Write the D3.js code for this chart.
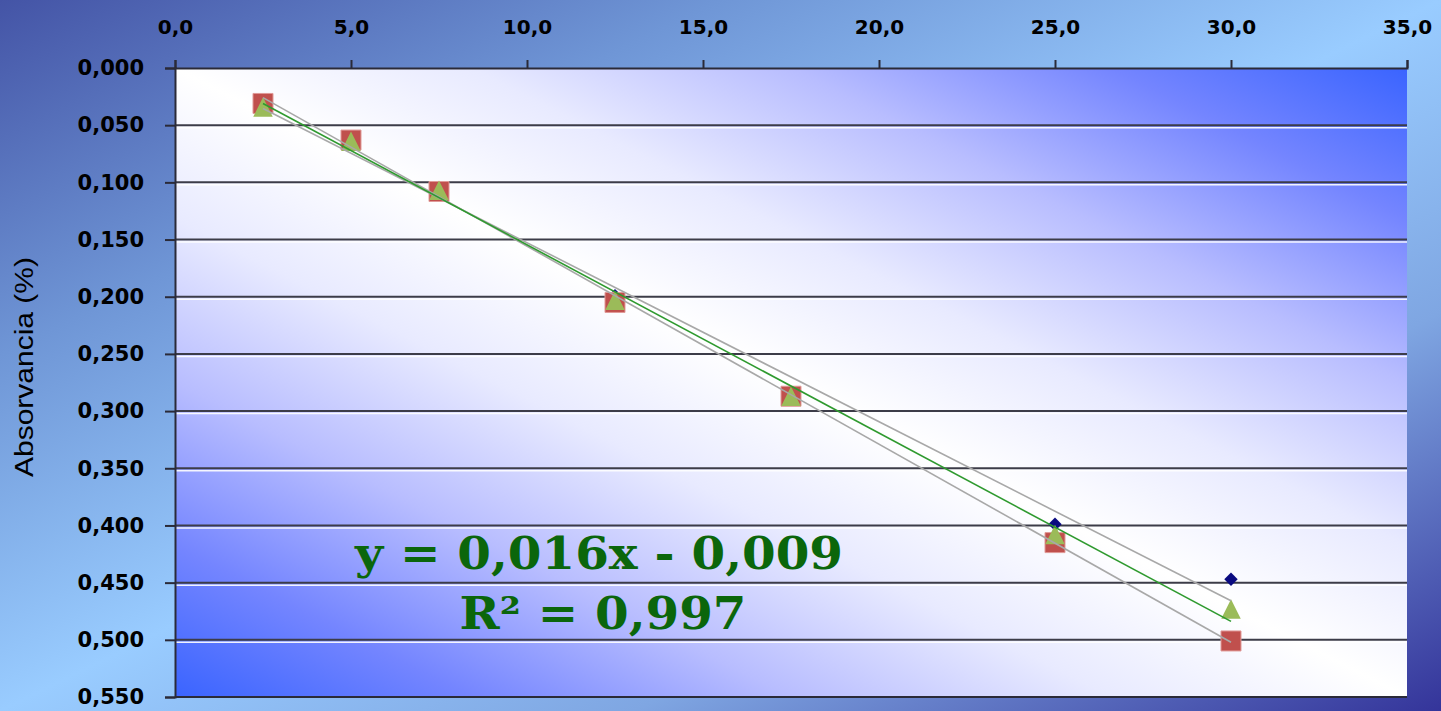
<!DOCTYPE html>
<html>
<head>
<meta charset="utf-8">
<script src="https://cdn.jsdelivr.net/npm/d3@7"></script>
<style>
  html, body { margin: 0; padding: 0; overflow: hidden; }
  svg { display: block; }
</style>
</head>
<body>
<script>
// ---- data ----
const concentracion = [2.5, 5, 7.5, 12.5, 17.5, 25, 30];
const serieAzul  = [0.036, 0.065, 0.106, 0.199, 0.287, 0.399, 0.447];
const serieRoja  = [0.031, 0.063, 0.108, 0.205, 0.287, 0.415, 0.501];
const serieVerde = [0.034, 0.064, 0.107, 0.203, 0.287, 0.408, 0.473];
const xTicks = [0, 5, 10, 15, 20, 25, 30, 35];
const yTicks = [0, 0.05, 0.10, 0.15, 0.20, 0.25, 0.30, 0.35, 0.40, 0.45, 0.50, 0.55];
const yTitle = "Absorvancia (%)";
const ecuacion = "y = 0,016x - 0,009";
const r2Text = "R² = 0,997";

const W = 1441, H = 711;
const m = { left: 175, right: 1441 - 1407, top: 68, bottom: 711 - 697 };

const svg = d3.select("body").append("svg").attr("width", W).attr("height", H);
const defs = svg.append("defs");

// outer background gradient
const bg = defs.append("linearGradient").attr("id", "bg")
  .attr("x1", 0).attr("y1", 0).attr("x2", 1).attr("y2", 1);
[[0, "#4454a6"], [0.25, "#6f96d6"], [0.5, "#99ccff"], [0.72, "#7fa6e2"], [1, "#34349a"]]
  .forEach(([o, c]) => bg.append("stop").attr("offset", o).attr("stop-color", c));

// plot area gradient
const pg = defs.append("linearGradient").attr("id", "pg")
  .attr("x1", 0).attr("y1", 1).attr("x2", 1).attr("y2", 0);
[[0, "#3a64ff"], [0.12, "#7485ff"], [0.25, "#b8bdff"], [0.38, "#e8eaff"], [0.5, "#ffffff"],
 [0.62, "#e8eaff"], [0.75, "#b8bdff"], [0.88, "#7485ff"], [1, "#3a64ff"]]
  .forEach(([o, c]) => pg.append("stop").attr("offset", o).attr("stop-color", c));

svg.append("rect").attr("width", W).attr("height", H).attr("fill", "url(#bg)");

const x = d3.scaleLinear().domain([0, 35]).range([m.left, W - m.right]);
const y = d3.scaleLinear().domain([0, 0.55]).range([m.top, H - m.bottom]);

const loc = d3.formatLocale({ decimal: ",", thousands: ".", grouping: [3], currency: ["", ""] });

// plot area
svg.append("rect")
  .attr("x", x(0)).attr("y", y(0))
  .attr("width", x(35) - x(0)).attr("height", y(0.55) - y(0))
  .attr("fill", "url(#pg)");

// gridlines
const grid = svg.append("g");
yTicks.filter(d => d > 0 && d < 0.55).forEach(d => {
  grid.append("line").attr("x1", x(0)).attr("x2", x(35))
    .attr("y1", y(d) + 2.5).attr("y2", y(d) + 2.5)
    .attr("stroke", "#ffffff").attr("stroke-width", 1.5).attr("opacity", 0.9);
  grid.append("line").attr("x1", x(0)).attr("x2", x(35))
    .attr("y1", y(d)).attr("y2", y(d))
    .attr("stroke", "#3c3c48").attr("stroke-width", 2);
});

// bottom border
svg.append("line").attr("x1", x(0)).attr("x2", x(35))
  .attr("y1", y(0.55)).attr("y2", y(0.55))
  .attr("stroke", "#2a2a38").attr("stroke-width", 2);

// axes
const xAxis = svg.append("g").attr("transform", `translate(0,${y(0)})`)
  .call(d3.axisTop(x).tickValues(xTicks).tickFormat(loc.format(".1f")).tickSizeOuter(0).tickSize(8).tickPadding(26));
const yAxis = svg.append("g").attr("transform", `translate(${x(0)},0)`)
  .call(d3.axisLeft(y).tickValues(yTicks).tickFormat(loc.format(".3f")).tickSizeOuter(0).tickSize(10).tickPadding(21));

[xAxis, yAxis].forEach(a => {
  a.select(".domain").attr("stroke", "#2a2a38").attr("stroke-width", 2);
  a.selectAll(".tick line").attr("stroke", "#2a2a38").attr("stroke-width", 2);
  a.selectAll("text").attr("fill", "#000")
    .style("font-family", "'DejaVu Sans', Verdana, sans-serif")
    .style("font-weight", "bold");
});
xAxis.selectAll("text").style("font-size", "20px");
yAxis.selectAll("text").style("font-size", "21px");

// y title
svg.append("text")
  .attr("transform", `translate(33,${367}) rotate(-90)`)
  .attr("text-anchor", "middle")
  .attr("textLength", 220).attr("lengthAdjust", "spacingAndGlyphs")
  .style("font-family", "'Liberation Sans', Arial, sans-serif")
  .style("font-size", "25px")
  .attr("fill", "#000")
  .text(yTitle);

// markers
const diamondType = { draw(ctx, size) { const r = Math.sqrt(size) / 2; ctx.moveTo(0, -r); ctx.lineTo(r, 0); ctx.lineTo(0, r); ctx.lineTo(-r, 0); ctx.closePath(); } };
const triType = { draw(ctx, size) { const s = Math.sqrt(size) / 2; ctx.moveTo(0, -s); ctx.lineTo(s, s); ctx.lineTo(-s, s); ctx.closePath(); } };

const series = [
  { vals: serieAzul, sym: d3.symbol().type(diamondType).size(180), fill: "#0a0a80", stroke: "none", trend: "#a8a8a8" },
  { vals: serieRoja, sym: d3.symbol().type(d3.symbolSquare).size(400), fill: "#c0504d", stroke: "#e09a98", trend: "#a8a8a8" },
  { vals: serieVerde, sym: d3.symbol().type(triType).size(380), fill: "#9bbb59", stroke: "none", trend: "#2f9a2f" }
];

series.forEach(s => {
  svg.append("g").selectAll("path").data(concentracion.map((c, i) => [c, s.vals[i]]))
    .join("path")
    .attr("transform", d => `translate(${x(d[0])},${y(d[1])})`)
    .attr("d", s.sym())
    .attr("fill", s.fill)
    .attr("stroke", s.stroke).attr("stroke-width", 1);
});

// trendlines (least squares on each series)
function fit(xs, ys) {
  const n = xs.length, mx = d3.mean(xs), my = d3.mean(ys);
  let sxy = 0, sxx = 0;
  for (let i = 0; i < n; i++) { sxy += (xs[i] - mx) * (ys[i] - my); sxx += (xs[i] - mx) ** 2; }
  const b = sxy / sxx; return { b, a: my - b * mx };
}
const x0 = d3.min(concentracion), x1 = d3.max(concentracion);
series.forEach(s => {
  const f = fit(concentracion, s.vals);
  svg.append("line")
    .attr("x1", x(x0)).attr("y1", y(f.a + f.b * x0))
    .attr("x2", x(x1)).attr("y2", y(f.a + f.b * x1))
    .attr("stroke", s.trend).attr("stroke-width", 1.6);
});

// equation label
const eq = svg.append("g")
  .style("font-family", "'DejaVu Serif', Georgia, serif")
  .style("font-weight", "bold")
  .style("font-size", "44px")
  .attr("fill", "#0b660b");
eq.append("text").attr("x", 599).attr("y", 569).attr("text-anchor", "middle")
  .attr("textLength", 488).attr("lengthAdjust", "spacingAndGlyphs").text(ecuacion);
eq.append("text").attr("x", 603).attr("y", 629).attr("text-anchor", "middle")
  .attr("textLength", 287).attr("lengthAdjust", "spacingAndGlyphs").text(r2Text);
</script>
</body>
</html>
